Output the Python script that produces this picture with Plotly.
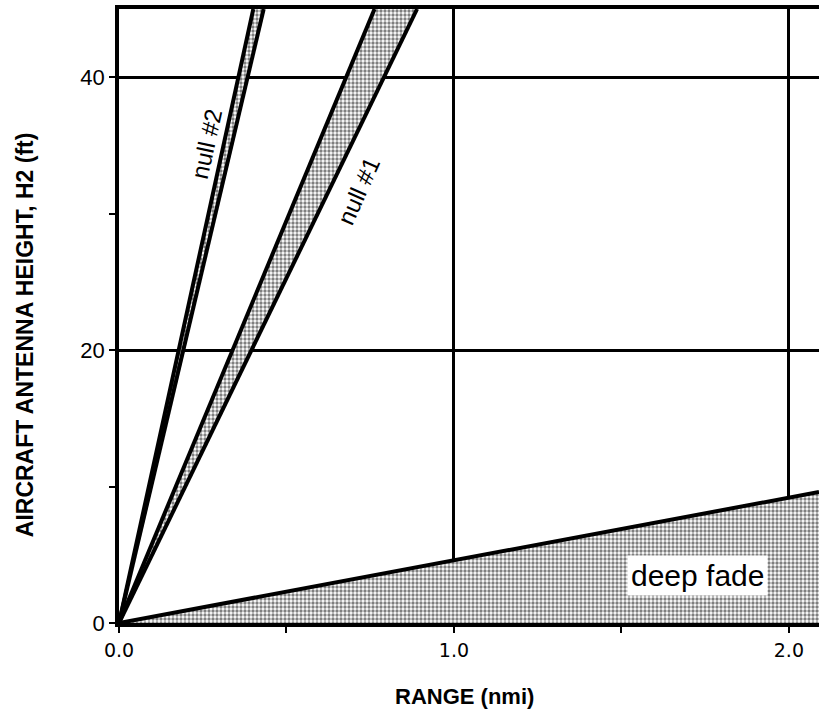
import plotly.graph_objects as go

# ---- data ----
H_TOP = 45.0                     # top of the height axis (ft)
R_END = 2.09                     # right edge of the range axis (nmi)
null2_range_at_top = [0.401, 0.432]   # range (nmi) where null #2 boundaries reach H2 = 45 ft
null1_range_at_top = [0.763, 0.890]   # range (nmi) where null #1 boundaries reach H2 = 45 ft
fade_height_at_end = 9.6              # deep-fade boundary height (ft) at range R_END

x_tickvals = [0.0, 1.0, 2.0]
x_ticktext = ["0.0", "1.0", "2.0"]
y_tickvals = [0, 20, 40]
y_ticktext = ["0", "20", "40"]

pattern = dict(shape=".", fgcolor="black", bgcolor="white", size=4, solidity=0.55)

fig = go.Figure()

def band(r_top):
    a, b = r_top
    return [0, a, b, 0], [0, H_TOP, H_TOP, 0]

for rt in (null2_range_at_top, null1_range_at_top):
    bx, by = band(rt)
    fig.add_trace(go.Scatter(x=bx, y=by, mode="none", fill="toself",
                             fillcolor="#b0b0b0", fillpattern=pattern,
                             hoverinfo="skip", showlegend=False))
    for r in rt:
        fig.add_trace(go.Scatter(x=[0, r], y=[0, H_TOP], mode="lines",
                                 line=dict(color="black", width=4),
                                 hoverinfo="skip", showlegend=False))

fig.add_trace(go.Scatter(x=[0, R_END, R_END, 0], y=[0, fade_height_at_end, 0, 0],
                         mode="none", fill="toself", fillcolor="#b0b0b0",
                         fillpattern=pattern, hoverinfo="skip", showlegend=False))
fig.add_trace(go.Scatter(x=[0, R_END], y=[0, fade_height_at_end], mode="lines",
                         line=dict(color="black", width=4),
                         hoverinfo="skip", showlegend=False))

fig.update_layout(
    width=819, height=726,
    margin=dict(l=119, r=0, t=9, b=103),
    paper_bgcolor="white", plot_bgcolor="white",
    font=dict(family="Liberation Sans, Arial", color="black"),
    xaxis=dict(range=[0, R_END], tickvals=x_tickvals, ticktext=x_ticktext,
               showgrid=True, gridcolor="black", gridwidth=2.5,
               showline=True, linecolor="black", linewidth=3.5, mirror=True,
               ticks="outside", ticklen=6, tickwidth=2, tickcolor="black",
               ticklabelstandoff=1,
               tickfont=dict(family="DejaVu Sans", size=19, color="black"),
               minor=dict(dtick=0.5, tick0=0, ticks="outside", ticklen=6,
                          tickwidth=2, tickcolor="black", showgrid=False),
               zeroline=False, layer="below traces"),
    yaxis=dict(range=[0, H_TOP], tickvals=y_tickvals, ticktext=y_ticktext,
               showgrid=True, gridcolor="black", gridwidth=2.5,
               showline=True, linecolor="black", linewidth=3.5, mirror=False,
               ticks="outside", ticklen=6, tickwidth=2, tickcolor="black",
               ticklabelstandoff=0,
               tickfont=dict(family="Liberation Sans", size=22, color="black"),
               minor=dict(dtick=10, tick0=0, ticks="outside", ticklen=6,
                          tickwidth=2, tickcolor="black", showgrid=False),
               zeroline=False, layer="below traces"),
    annotations=[
        dict(text="null #2", x=0.26, y=35.1, xref="x", yref="y", showarrow=False,
             textangle=-77.6, xanchor="center", yanchor="middle",
             font=dict(size=24, family="Liberation Sans")),
        dict(text="null #1", x=0.716, y=31.7, xref="x", yref="y", showarrow=False,
             textangle=-66, xanchor="center", yanchor="middle",
             font=dict(size=24, family="Liberation Sans")),
        dict(text="deep fade", x=1.728, y=3.46, xref="x", yref="y", showarrow=False,
             xanchor="center", yanchor="middle", bgcolor="white", borderpad=3,
             font=dict(size=30, family="Liberation Sans")),
        dict(text="<b>RANGE (nmi)</b>", x=0.494, y=-0.119, xref="paper", yref="paper",
             xanchor="center", yanchor="middle", showarrow=False,
             font=dict(size=22, family="Liberation Sans")),
        dict(text="<b>AIRCRAFT ANTENNA HEIGHT, H2 (ft)</b>", x=-0.134, y=0.469,
             xref="paper", yref="paper", showarrow=False, textangle=-90,
             xanchor="center", yanchor="middle",
             font=dict(size=23, family="Liberation Sans")),
    ],
)

fig.write_html("out.html", config={"displayModeBar": False},
               post_script="document.body.style.margin='0';")
